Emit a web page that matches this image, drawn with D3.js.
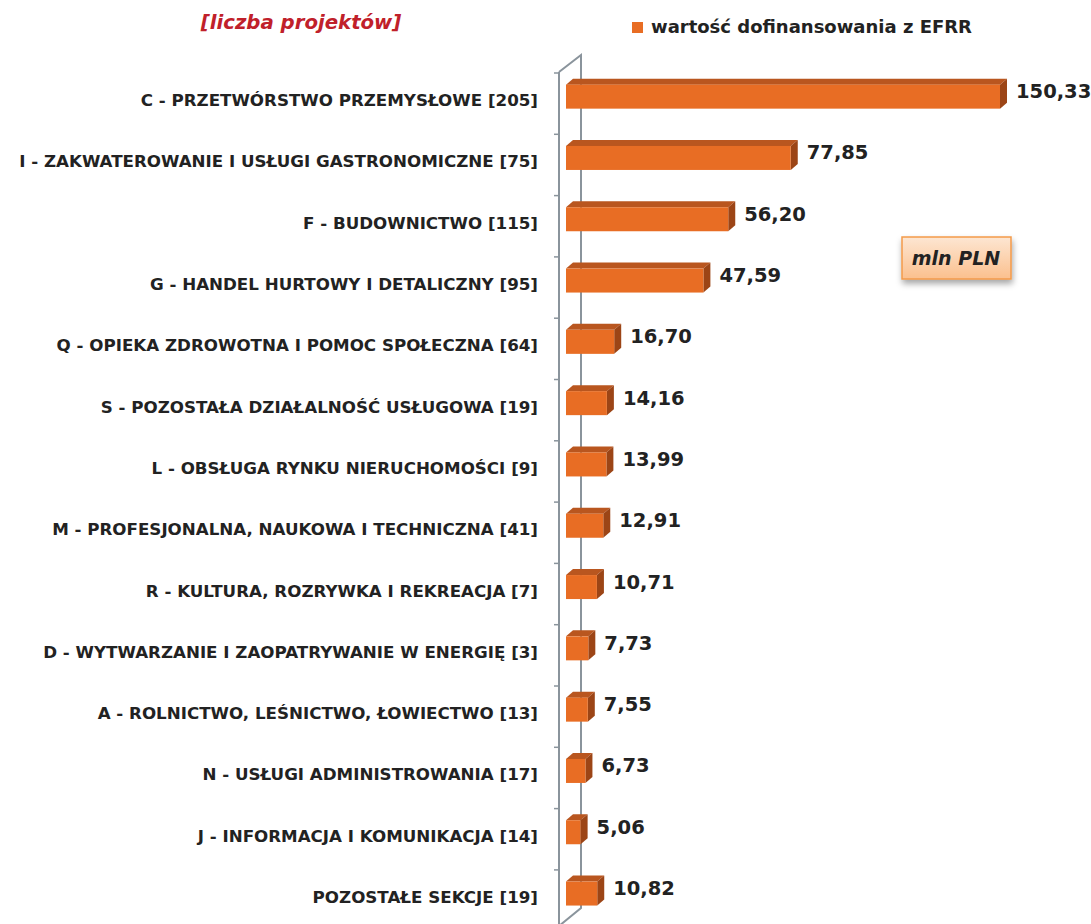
<!DOCTYPE html>
<html>
<head>
<meta charset="utf-8">
<script src="https://cdn.jsdelivr.net/npm/d3@7"></script>
<style>
  body { margin: 0; background: #fff; }
  text { font-family: "DejaVu Sans", sans-serif; }
</style>
</head>
<body>
<div id="viz"></div>
<script>
// data
var categories = [
  "C - PRZETWÓRSTWO PRZEMYSŁOWE [205]",
  "I - ZAKWATEROWANIE I USŁUGI GASTRONOMICZNE [75]",
  "F - BUDOWNICTWO [115]",
  "G - HANDEL HURTOWY I DETALICZNY [95]",
  "Q - OPIEKA ZDROWOTNA I POMOC SPOŁECZNA [64]",
  "S - POZOSTAŁA DZIAŁALNOŚĆ USŁUGOWA [19]",
  "L - OBSŁUGA RYNKU NIERUCHOMOŚCI [9]",
  "M - PROFESJONALNA, NAUKOWA I TECHNICZNA [41]",
  "R - KULTURA, ROZRYWKA I REKREACJA [7]",
  "D - WYTWARZANIE I ZAOPATRYWANIE W ENERGIĘ [3]",
  "A - ROLNICTWO, LEŚNICTWO, ŁOWIECTWO [13]",
  "N - USŁUGI ADMINISTROWANIA [17]",
  "J - INFORMACJA I KOMUNIKACJA [14]",
  "POZOSTAŁE SEKCJE [19]"
];
var values = [150.33, 77.85, 56.20, 47.59, 16.70, 14.16, 13.99, 12.91, 10.71, 7.73, 7.55, 6.73, 5.06, 10.82];
var seriesName = "wartość dofinansowania z EFRR";
var axisTitle = "[liczba projektów]";
var unitLabel = "mln PLN";

var width = 1091, height = 924;
var svg = d3.select("#viz").append("svg")
  .attr("width", width)
  .attr("height", height);

var defs = svg.append("defs");
var grad = defs.append("linearGradient").attr("id", "boxGrad")
  .attr("x1", 0).attr("y1", 0).attr("x2", 0).attr("y2", 1);
grad.append("stop").attr("offset", "0%").attr("stop-color", "#fde6d2");
grad.append("stop").attr("offset", "100%").attr("stop-color", "#fbc08e");
var shadow = defs.append("filter").attr("id", "shadow")
  .attr("x", "-20%").attr("y", "-20%").attr("width", "150%").attr("height", "170%");
shadow.append("feDropShadow").attr("dx", 1).attr("dy", 4).attr("stdDeviation", 3)
  .attr("flood-color", "#000").attr("flood-opacity", 0.35);

// scales
var x0 = 566;
var x = d3.scaleLinear().domain([0, 150.33]).range([x0, 1000]);
var y = d3.scaleBand().domain(categories).range([73, 73 + 14 * 61.3]);

var depthX = 7, depthY = -6;   // 3d offset
var wallX = 559, wallBackX = 581;

// wall / axis
var axisColor = "#8a949c";
svg.append("path")
  .attr("d", "M" + wallX + ",72 L" + wallBackX + ",55 L" + wallBackX + ",908 L" + wallX + ",926")
  .attr("fill", "none").attr("stroke", axisColor).attr("stroke-width", 2);
svg.append("line")
  .attr("x1", wallX).attr("x2", wallX).attr("y1", 72).attr("y2", height + 2)
  .attr("stroke", axisColor).attr("stroke-width", 2);

// tick marks at band boundaries
var ticks = categories.map(function(c) { return y(c); });
svg.selectAll(".tick").data(ticks).enter().append("line")
  .attr("x1", wallX - 5).attr("x2", wallX)
  .attr("y1", function(d) { return d; }).attr("y2", function(d) { return d; })
  .attr("stroke", axisColor).attr("stroke-width", 1.5);

// bars
var barH = 24;
function barTop(c) { return y(c) + y.bandwidth() / 2 - 19; }

var bars = svg.append("g").selectAll("g").data(values).enter().append("g");

// top face
bars.append("path")
  .attr("d", function(d, i) {
    var t = barTop(categories[i]), r = x(d);
    return "M" + x0 + "," + t + " L" + (x0 + depthX) + "," + (t + depthY) +
      " L" + (r + depthX) + "," + (t + depthY) + " L" + r + "," + t + " Z";
  })
  .attr("fill", "#b9561f");
// side face
bars.append("path")
  .attr("d", function(d, i) {
    var t = barTop(categories[i]), r = x(d);
    return "M" + r + "," + t + " L" + (r + depthX) + "," + (t + depthY) +
      " L" + (r + depthX) + "," + (t + depthY + barH) + " L" + r + "," + (t + barH) + " Z";
  })
  .attr("fill", "#9c4516");
// front face
bars.append("rect")
  .attr("x", x0)
  .attr("y", function(d, i) { return barTop(categories[i]); })
  .attr("width", function(d) { return x(d) - x0; })
  .attr("height", barH)
  .attr("fill", "#e86d24");

// value labels
bars.append("text")
  .attr("x", function(d) { return x(d) + 16; })
  .attr("y", function(d, i) { return barTop(categories[i]) + barH / 2 - 4; })
  .attr("dominant-baseline", "middle")
  .attr("font-size", 19.5).attr("font-weight", "bold").attr("fill", "#222")
  .text(function(d) { return d3.format(".2f")(d).replace(".", ","); });

// category labels
svg.append("g").selectAll("text").data(categories).enter().append("text")
  .attr("x", 538)
  .attr("y", function(d) { return y(d) + y.bandwidth() / 2 - 2; })
  .attr("text-anchor", "end")
  .attr("dominant-baseline", "middle")
  .attr("font-size", 16.7).attr("font-weight", "bold").attr("fill", "#222")
  .text(function(d) { return d; });

// axis title
svg.append("text")
  .attr("x", 301).attr("y", 29)
  .attr("text-anchor", "middle")
  .attr("font-size", 19.7).attr("font-weight", "bold").attr("font-style", "italic")
  .attr("fill", "#c0202a")
  .text(axisTitle);

// legend
svg.append("rect").attr("x", 632).attr("y", 22).attr("width", 11).attr("height", 11).attr("fill", "#e86d24");
svg.append("text")
  .attr("x", 651).attr("y", 28)
  .attr("dominant-baseline", "middle")
  .attr("font-size", 18).attr("font-weight", "bold").attr("fill", "#222")
  .text(seriesName);

// unit box
svg.append("rect")
  .attr("x", 902).attr("y", 237).attr("width", 109).attr("height", 42)
  .attr("fill", "url(#boxGrad)").attr("stroke", "#f39a4a").attr("stroke-width", 1.5)
  .attr("filter", "url(#shadow)");
svg.append("text")
  .attr("x", 956).attr("y", 259)
  .attr("text-anchor", "middle").attr("dominant-baseline", "middle")
  .attr("font-size", 19).attr("font-weight", "bold").attr("font-style", "italic")
  .attr("fill", "#222")
  .text(unitLabel);
</script>
</body>
</html>
